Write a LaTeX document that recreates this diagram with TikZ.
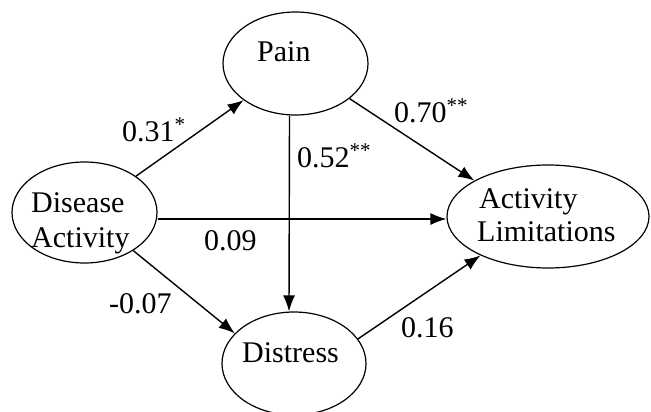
\documentclass[tikz,border=0pt]{standalone}
\usepackage{fontspec}
\setmainfont{Liberation Serif}
\usetikzlibrary{arrows.meta, shapes.geometric}

\begin{document}
\begin{tikzpicture}[
  x=1pt, y=-1pt,
  var/.style={ellipse, draw=black, line width=1.2pt, inner sep=0pt},
  txt/.style={anchor=base west, inner sep=0pt, font=\fontsize{30}{35}\selectfont},
  coef/.style={anchor=base west, inner sep=0pt, font=\fontsize{30}{35}\selectfont},
  arrow/.style={-{Latex[length=16pt, width=12pt]}, line width=1.4pt}
]
\useasboundingbox (0,0) rectangle (651,412);

% --- VARIABLES ---

% Draw the four ellipses
\node[var, minimum width=145pt, minimum height=103pt] (pain) at (295.5,63.5) {};
\node[var, minimum width=145pt, minimum height=101pt] (da) at (84.5,212.5) {};
\node[var, minimum width=202pt, minimum height=103pt] (al) at (548,216.5) {};
\node[var, minimum width=144pt, minimum height=103pt] (dis) at (294,363.5) {};

% Texts inside the ellipses
\node[txt] (paintxt) at (257,62) {Pain};
\node[txt] (datxt1) at (31,212) {Disease};
\node[txt] (datxt2) at (31,247) {Activity};
\node[txt] (altxt1) at (479,208) {Activity};
\node[txt] (altxt2) at (477,241) {Limitations};
\node[txt] (distxt) at (242,362) {Distress};

% --- PATHS ---

\draw[arrow] (da) -- (pain);
\draw[arrow] (pain.-33.6) -- (al.154);
\draw[arrow] ([xshift=-6pt]pain.south) -- ([xshift=-5pt]dis.north);
\draw[arrow] ([yshift=-6.5pt]da.east) -- ([yshift=-6.5pt]da.east -| al.west);
\draw[arrow] (da.-38) -- (dis.153);
\draw[arrow] (dis.21.7) -- (al.210);

% Path coefficients
\foreach \px/\py/\val [count=\i] in {122/141/{0.31\textsuperscript{*}},
                                     394/122/{0.70\textsuperscript{**}},
                                     297/167/{0.52\textsuperscript{**}},
                                     204/250/{0.09},
                                     109/313/{-0.07},
                                     401/337/{0.16}} {
  \node[coef] (coef\i) at (\px,\py) {\val};
}

\end{tikzpicture}
\end{document}
